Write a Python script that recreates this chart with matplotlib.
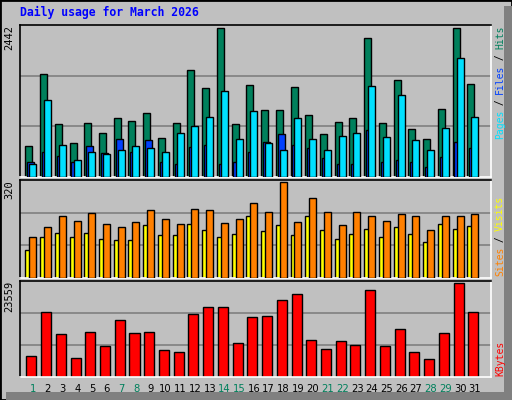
import matplotlib
matplotlib.use("Agg")
import matplotlib.pyplot as plt
import numpy as np
from matplotlib.patches import Rectangle

days = list(range(1, 32))
day_labels = [str(d) for d in days]
weekend = [1, 7, 8, 14, 15, 21, 22, 28, 29]
hits = [508,1680,867,552,884,718,967,917,1050,635,884,1751,1464,2442,867,1514,
        1099,1099,1481,1017,702,901,967,2276,884,1597,785,619,1116,2442,1530]
files = [238,403,343,243,508,387,619,403,602,238,210,492,525,221,238,403,
         569,702,519,470,304,221,221,768,238,271,254,171,320,569,470]
pages = [210,1254,525,271,403,376,436,508,470,403,718,834,983,1414,619,1083,
         552,436,967,619,436,669,718,1497,652,1348,602,436,801,1945,983]
sites = [93,138,149,138,149,131,125,125,177,142,142,180,159,135,145,208,
         156,177,142,208,159,131,145,163,138,170,145,121,180,163,173]
visits = [135,170,208,191,215,180,170,187,226,198,180,229,226,184,198,250,
          219,320,187,268,219,177,219,205,191,212,205,159,208,208,212]
kbytes = [5245,16336,10662,4729,11178,7824,14273,10920,11178,6793,6277,15821,17627,17627,8598,15047,
          15305,19174,20722,9372,7051,9114,8082,21754,7824,11952,6277,4471,10920,23559,16336]

BG = "#c0c0c0"
W, H = 512, 400
fig = plt.figure(figsize=(5.12, 4.0), dpi=100, facecolor=BG)
fig.patches.append(Rectangle((0, 0), 1, 1, transform=fig.transFigure, fill=False, ec="black", lw=2))
fig.patches.append(Rectangle((504/W, 0), 8/W, 1-6/H, transform=fig.transFigure, fc="#808080", ec="none"))
fig.patches.append(Rectangle((6/W, 0), 1-6/W, 8/H, transform=fig.transFigure, fc="#808080", ec="none"))

def mkax(top, bot):
    ax = fig.add_axes([20/W, 1-bot/H, 470.7/W, (bot-top)/H])
    ax.set_facecolor(BG)
    ax.set_xlim(0.117, 32.07)
    ax.set_xticks([]); ax.set_yticks([])
    for s in ("top", "left"):
        ax.spines[s].set_color("black")
    for s in ("right", "bottom"):
        ax.spines[s].set_color("white")
    for s in ax.spines.values():
        s.set_linewidth(1.2)
    return ax

x = np.array(days, dtype=float)
kw = dict(edgecolor="black", linewidth=1, align="edge")

def grid(ax, top):
    for f in (1/3, 2/3):
        ax.axhline(top*f, color="#808080", lw=1.2, zorder=0)

ax1 = mkax(25, 177)
t1 = max(hits)*1.02
ax1.set_ylim(0, t1); grid(ax1, t1)
ax1.bar(x-0.52, hits, 0.475, color="#00805c", zorder=2, **kw)
ax1.bar(x-0.39, files, 0.475, color="#0040ff", zorder=3, **kw)
ax1.bar(x-0.25, pages, 0.475, color="#00e0ff", zorder=4, **kw)

ax2 = mkax(180, 278)
t2 = max(visits)*1.02
ax2.set_ylim(0, t2); grid(ax2, t2)
ax2.bar(x-0.52, sites, 0.475, color="#ffff00", zorder=2, **kw)
ax2.bar(x-0.25, visits, 0.475, color="#ff8000", zorder=3, **kw)

ax3 = mkax(281, 377)
t3 = max(kbytes)*1.02
ax3.set_ylim(0, t3); grid(ax3, t3)
ax3.bar(x-0.45, kbytes, 0.68, color="#ff0000", zorder=2, **kw)

mono = "DejaVu Sans Mono"
fig.text(20/W, 1-16/H, "Daily usage for March 2026", color="#0000ff", family=mono,
         weight="bold", fontsize=8.3, va="baseline")

for ax, val in ((ax1, max(hits)), (ax2, max(visits)), (ax3, max(kbytes))):
    ax.text(-0.012, 1.0, str(val), transform=ax.transAxes, rotation=90, ha="right", va="top",
            family=mono, fontsize=7.5, color="black")

for d, lab in zip(days, day_labels):
    ax3.text(d, -0.12, lab, transform=ax3.get_xaxis_transform(), ha="center", va="center",
             family="DejaVu Sans", fontsize=7.2, color="#00805c" if d in weekend else "black")

def side(segs, ystart_px, xpx=500, cw=5.6):
    y = ystart_px
    for txt, col in segs:
        fig.text(xpx/W, 1-y/H, txt, rotation=90, rotation_mode="anchor", ha="left", va="center",
                 family=mono, fontsize=7, color=col)
        y -= len(txt)*cw

side([("Pages", "#00e0ff"), (" / ", "black"), ("Files", "#0040ff"), (" / ", "black"), ("Hits", "#00805c")], 139)
side([("Sites", "#ff8000"), (" / ", "black"), ("Visits", "#ffff00")], 276)
side([("KBytes", "#ff0000")], 376)

fig.savefig("out.png", dpi=100, facecolor=BG)
